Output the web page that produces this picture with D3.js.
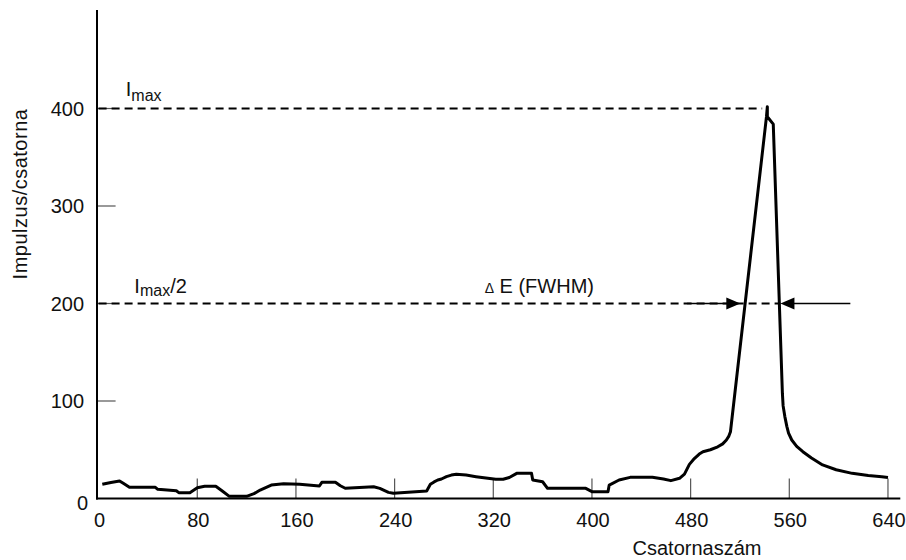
<!DOCTYPE html>
<html>
<head>
<meta charset="utf-8">
<script src="https://cdn.jsdelivr.net/npm/d3@7"></script>
<style>
  html, body { margin: 0; padding: 0; background: #fff; }
  svg { display: block; font-family: "Liberation Sans", Arial, Helvetica, sans-serif; }
</style>
</head>
<body>
<svg id="chart" width="906" height="560"></svg>
<script>
// ---- data ----
const channels = [3, 10, 17, 20, 25, 46, 48, 63, 65, 74, 80, 86, 95, 100, 106, 120, 126, 131, 140, 150,
  163, 179, 181, 192, 196, 200, 223, 228, 235, 239, 266, 269, 272, 275, 278, 282, 286, 290, 298, 306,
  314, 322, 328, 333, 339, 351, 352, 360, 364, 395, 400, 413, 414, 422, 431, 449, 458, 464, 471, 475,
  479, 483, 487, 490, 496, 502, 506, 509, 511, 512.3, 541.5, 542.2, 542.2, 547, 554.4, 555, 556.4, 558,
  559.4, 562, 566, 571, 578, 587, 598, 611, 624, 635, 640];
const counts = [14.6, 16.5, 18, 15.6, 11.5, 11.5, 9.4, 8, 6, 6, 11, 12.5, 12.5, 8, 2.2, 2.2, 5, 8.7, 13.8, 15.2,
  14.6, 12.8, 16.6, 16.6, 13.1, 10.5, 12.1, 10.4, 6.3, 5.3, 7.7, 14.6, 17, 19, 20, 22.4, 24, 24.8, 24, 22.4,
  21, 19.7, 19.7, 21.5, 25.8, 25.8, 19, 17.2, 10.4, 10.4, 7, 7, 13.8, 19, 21.7, 21.7, 20, 18.3, 20.7, 25,
  35, 41, 45.6, 48, 50, 53, 56, 60, 64, 68.5, 391.6, 401.8, 391.6, 384, 108, 95, 84, 74,
  67, 60, 53.5, 48, 41.5, 34.4, 29.5, 25.8, 23.5, 22.4, 21.5];

const xTicks = [80, 160, 240, 320, 400, 480, 560, 640];
const xTickLabels = [0, 80, 160, 240, 320, 400, 480, 560, 640];
const yTicks = [100, 200, 300, 400];
const yTickLabels = [0, 100, 200, 300, 400];

const xTitle = "Csatornaszám";
const yTitle = "Impulzus/csatorna";
const iMax = 400;
const iHalf = 200;
const fwhmLeft = 520.3;   // channel where the left flank crosses Imax/2
const fwhmRight = 552.8;  // channel where the right flank crosses Imax/2
const peakChannel = 538;

// ---- scales ----
const x = d3.scaleLinear().domain([0, 650]).range([98.6, 900.3]);
const y = d3.scaleLinear().domain([0, 500]).range([498.5, 11]);

const svg = d3.select("#chart");

// ticks (inward, thin gray)
svg.append("g").selectAll("line").data(xTicks).join("line")
  .attr("x1", d => x(d)).attr("x2", d => x(d))
  .attr("y1", y(0)).attr("y2", y(0) - 20)
  .attr("stroke", "#555").attr("stroke-width", 1.2);
svg.append("g").selectAll("line").data(yTicks).join("line")
  .attr("x1", x(0) - 1.5).attr("x2", x(0) + 17)
  .attr("y1", d => y(d)).attr("y2", d => y(d))
  .attr("stroke", "#555").attr("stroke-width", 1.2);

// axes lines
svg.append("line").attr("x1", x(0) - 1.6).attr("x2", x(0) - 1.6)
  .attr("y1", y(0) + 1).attr("y2", 10)
  .attr("stroke", "#000").attr("stroke-width", 2);
svg.append("line").attr("x1", x(0) - 2.6).attr("x2", x(650))
  .attr("y1", y(0)).attr("y2", y(0))
  .attr("stroke", "#000").attr("stroke-width", 2);

// tick labels
svg.append("g").selectAll("text").data(xTickLabels).join("text")
  .attr("x", d => x(d) + 1).attr("y", y(0) + 28)
  .attr("text-anchor", "middle").attr("font-size", 20).attr("fill", "#111")
  .text(d => d);
svg.append("g").selectAll("text").data(yTickLabels).join("text")
  .attr("x", d => d === 0 ? x(0) - 10.5 : x(0) - 14.5)
  .attr("y", d => d === 0 ? y(d) + 11 : y(d) + 7)
  .attr("text-anchor", "end").attr("font-size", 20).attr("fill", "#111")
  .text(d => d);

// axis titles
svg.append("text").attr("x", 697).attr("y", 555)
  .attr("text-anchor", "middle").attr("font-size", 20).attr("fill", "#111")
  .text(xTitle);
svg.append("text")
  .attr("transform", "translate(27,194) rotate(-90)")
  .attr("text-anchor", "middle").attr("font-size", 20).attr("fill", "#111")
  .attr("letter-spacing", 0.5)
  .text(yTitle);

// dashed reference lines
svg.append("line").attr("x1", x(0)).attr("x2", x(peakChannel))
  .attr("y1", y(iMax)).attr("y2", y(iMax))
  .attr("stroke", "#000").attr("stroke-width", 2).attr("stroke-dasharray", "8,5");
svg.append("line").attr("x1", x(0)).attr("x2", x(fwhmRight))
  .attr("y1", y(iHalf)).attr("y2", y(iHalf))
  .attr("stroke", "#000").attr("stroke-width", 2).attr("stroke-dasharray", "8,5");

// FWHM arrows
svg.append("line").attr("x1", x(477)).attr("x2", x(fwhmLeft) - 10)
  .attr("y1", y(iHalf)).attr("y2", y(iHalf))
  .attr("stroke", "#000").attr("stroke-width", 1.5);
svg.append("path")
  .attr("d", `M${x(fwhmLeft)},${y(iHalf)} L${x(fwhmLeft) - 14},${y(iHalf) - 6} L${x(fwhmLeft) - 14},${y(iHalf) + 6} Z`)
  .attr("fill", "#000");
svg.append("line").attr("x1", x(fwhmRight) + 10).attr("x2", x(609.5))
  .attr("y1", y(iHalf)).attr("y2", y(iHalf))
  .attr("stroke", "#000").attr("stroke-width", 1.5);
svg.append("path")
  .attr("d", `M${x(fwhmRight)},${y(iHalf)} L${x(fwhmRight) + 14},${y(iHalf) - 6} L${x(fwhmRight) + 14},${y(iHalf) + 6} Z`)
  .attr("fill", "#000");

// spectrum line
const line = d3.line().x(d => x(d[0])).y(d => y(d[1])).curve(d3.curveLinear);
svg.append("path")
  .datum(d3.zip(channels, counts))
  .attr("d", line)
  .attr("fill", "none").attr("stroke", "#000").attr("stroke-width", 3)
  .attr("stroke-linejoin", "round");

// annotation labels
const t1 = svg.append("text").attr("x", x(22)).attr("y", y(iMax) - 13)
  .attr("font-size", 20).attr("fill", "#111");
t1.append("tspan").text("I");
t1.append("tspan").attr("font-size", 16).attr("dy", 5).text("max");

const t2 = svg.append("text").attr("x", x(29)).attr("y", y(iHalf) - 10.5)
  .attr("font-size", 20).attr("fill", "#111");
t2.append("tspan").text("I");
t2.append("tspan").attr("font-size", 16).attr("dy", 3).text("max");
t2.append("tspan").attr("dy", -3).text("/2");

const t3 = svg.append("text").attr("x", x(313)).attr("y", y(iHalf) - 10.5)
  .attr("font-size", 20).attr("fill", "#111");
t3.append("tspan").attr("font-size", 14).text("Δ");
t3.append("tspan").text(" E (FWHM)");
</script>
</body>
</html>
